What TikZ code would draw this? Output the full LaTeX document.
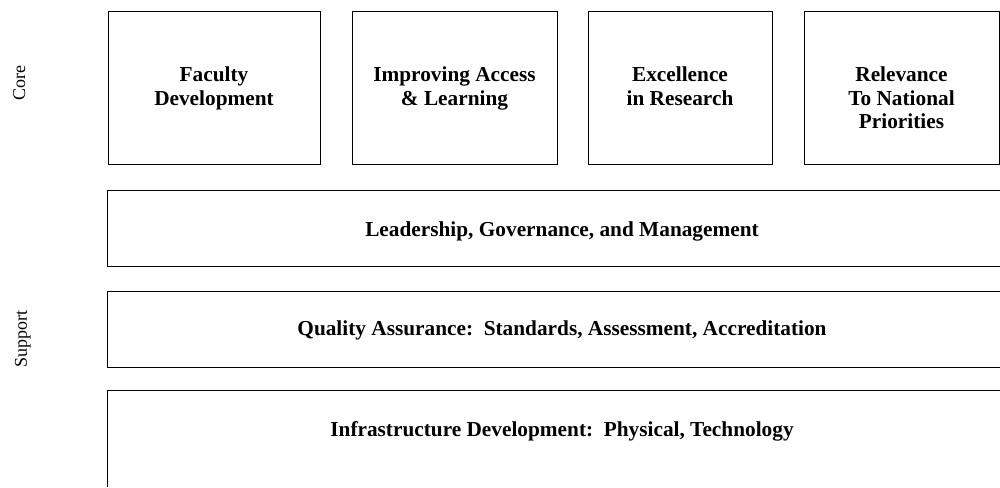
\documentclass[tikz,border=0pt]{standalone}
\usepackage{fontspec}
\setmainfont{Liberation Serif}
\begin{document}
\begin{tikzpicture}[x=1pt,y=-1pt,
  box/.style={draw=black, line width=1pt, inner sep=0pt, rectangle},
  band/.style={inner sep=0pt, rectangle},
  edge/.style={draw=black, line width=1pt},
  ttl/.style={font=\fontsize{21.3}{23.5}\selectfont\bfseries, align=center, anchor=base, inner sep=0pt},
  side/.style={font=\fontsize{18}{20}\selectfont, rotate=90, anchor=base, inner sep=0pt}]
\useasboundingbox (0,0) rectangle (1000,487);
% core boxes
\node[box, minimum width=212pt, minimum height=152pt] (fac) at (214,88) {};
\node[box, minimum width=205pt, minimum height=152pt] (acc) at (454.5,88) {};
\node[box, minimum width=184pt, minimum height=152pt] (res) at (680,88) {};
\node[box, minimum width=195pt, minimum height=152pt] (rel) at (901.5,88) {};
\node[ttl] (tfac) at (214,105) {Faculty\\Development};
\node[ttl] (tacc) at (454.5,105) {Improving Access\\\& Learning};
\node[ttl] (tres) at (680,105) {Excellence\\in Research};
\node[ttl] (trel) at (901.5,128.5) {Relevance\\To National\\Priorities};
% support bands
\node[band, minimum width=892pt, minimum height=75pt] (lead) at (554,228.5) {};
\node[band, minimum width=892pt, minimum height=75pt] (qual) at (554,329.5) {};
\node[band, minimum width=892pt, minimum height=96pt] (infra) at (554,439) {};
\draw[edge] (lead.north east) -- (lead.north west) -- (lead.south west) -- (lead.south east);
\draw[edge] (qual.north east) -- (qual.north west) -- (qual.south west) -- (qual.south east);
\draw[edge] (infra.north east) -- (infra.north west) -- (infra.south west);
\node[ttl] (tlead) at (562,236.7) {Leadership, Governance, and Management};
\node[ttl] (tqual) at (562,335.7) {Quality Assurance:\ \ Standards, Assessment, Accreditation};
\node[ttl] (tinfra) at (562,436.7) {Infrastructure Development:\ \ Physical, Technology};
% side labels
\node[side] (core) at (25,83) {Core};
\node[side] (support) at (27,338.5) {Support};
\end{tikzpicture}
\end{document}
